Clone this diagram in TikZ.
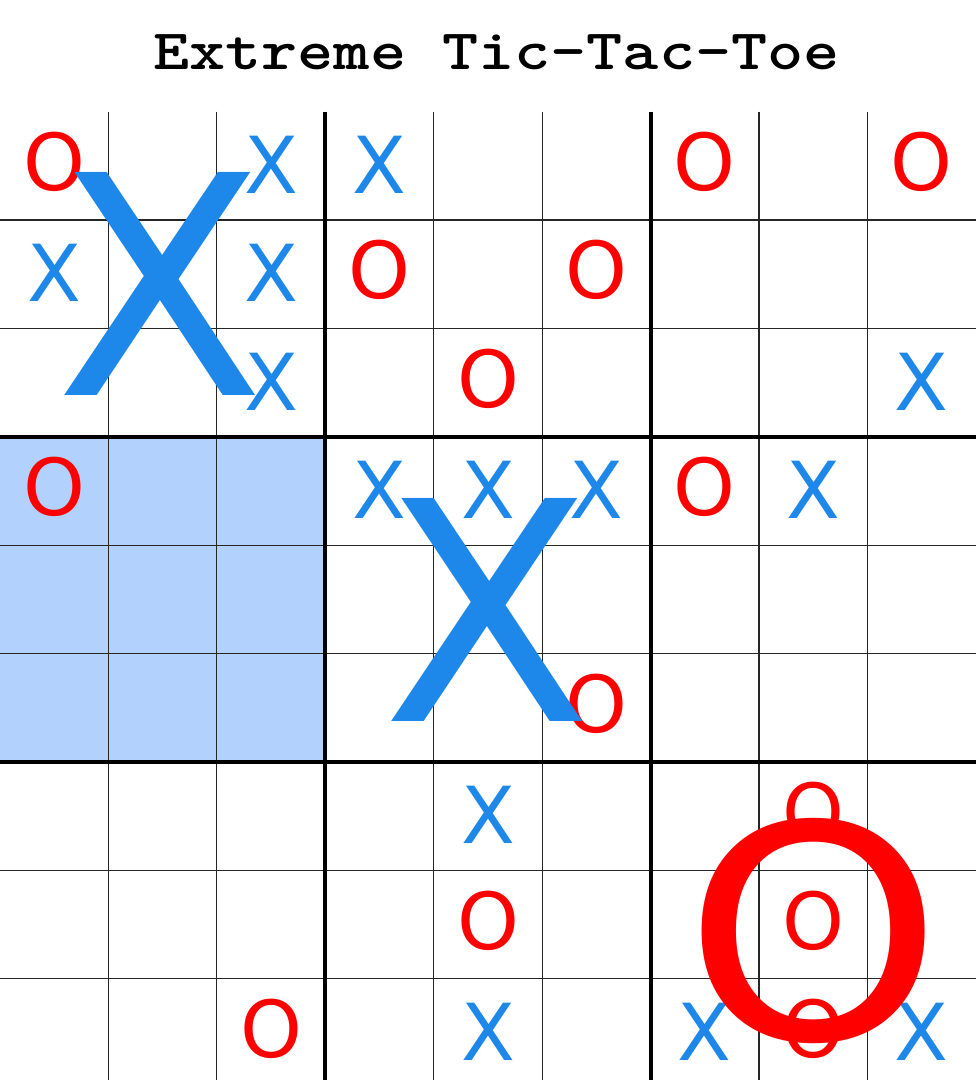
\documentclass[tikz,border=0pt]{standalone}
\usepackage{fontspec}
\usepackage{graphicx}
\newfontfamily\glyphfont{DejaVu Sans}
\definecolor{xblue}{RGB}{30,136,234}
\definecolor{ored}{RGB}{255,0,0}
\definecolor{hlblue}{RGB}{178,209,253}
\tikzset{
  thinline/.style={line width=0.9pt, black!85},
  thickline/.style={line width=3pt, black},
  smallx/.style={inner sep=0pt, text=xblue, font=\glyphfont\fontsize{59}{59}\selectfont},
  smallo/.style={inner sep=0pt, text=ored, font=\glyphfont\fontsize{59}{59}\selectfont},
  bigx/.style={inner sep=0pt, text=xblue, font=\glyphfont\fontsize{229.5}{229.5}\selectfont},
  bigo/.style={inner sep=0pt, text=ored, font=\glyphfont\fontsize{229.5}{229.5}\selectfont},
  titlestyle/.style={inner sep=0pt, anchor=base, font=\ttfamily\bfseries\fontsize{51.6}{51.6}\selectfont}
}
\begin{document}
\begin{tikzpicture}[x=0.75pt,y=-0.75pt]
\useasboundingbox (0,0) rectangle (976,1080);
% highlighted sub-board
\fill[hlblue] (0,436.8) rectangle (325.3,762);
% thin grid lines
\foreach \k in {1,2,4,5,7,8}{
  \draw[thinline] ({108.44*\k},111.6) -- ({108.44*\k},1080);
  \draw[thinline] (0,{111.6+108.4*\k}) -- (976,{111.6+108.4*\k});
}
% thick grid lines
\foreach \k in {3,6}{
  \draw[thickline] ({108.44*\k},111.6) -- ({108.44*\k},1080);
  \draw[thickline] (0,{111.6+108.4*\k}) -- (976,{111.6+108.4*\k});
}
% title
\node[titlestyle] (title) at (496.5,70) {\scalebox{1}[0.83]{Extreme Tic-Tac-Toe}};
% small marks
\foreach \r/\c in {0/2,0/3,1/0,1/2,2/2,2/8,3/3,3/4,3/5,3/7,6/4,8/4,8/6,8/8}{
  \node[smallx] (x\r\c) at ({108.44*(\c+0.5)},{111.6+108.4*(\r+0.5)-1}) {X};
}
\foreach \r/\c in {0/0,0/6,0/8,1/3,1/5,2/4,3/0,3/6,5/5,6/7,7/4,7/7,8/2,8/7}{
  \node[smallo] (o\r\c) at ({108.44*(\c+0.5)},{111.6+108.4*(\r+0.5)-4}) {O};
}
% big marks (won sub-boards)
\node[bigx] (bigxtl) at (160,284) {X};
\node[bigx] (bigxc) at (487.5,610) {X};
\node[bigo] (bigobr) at (813.5,930.5) {\scalebox{1.08}[0.974]{O}};
\end{tikzpicture}
\end{document}
